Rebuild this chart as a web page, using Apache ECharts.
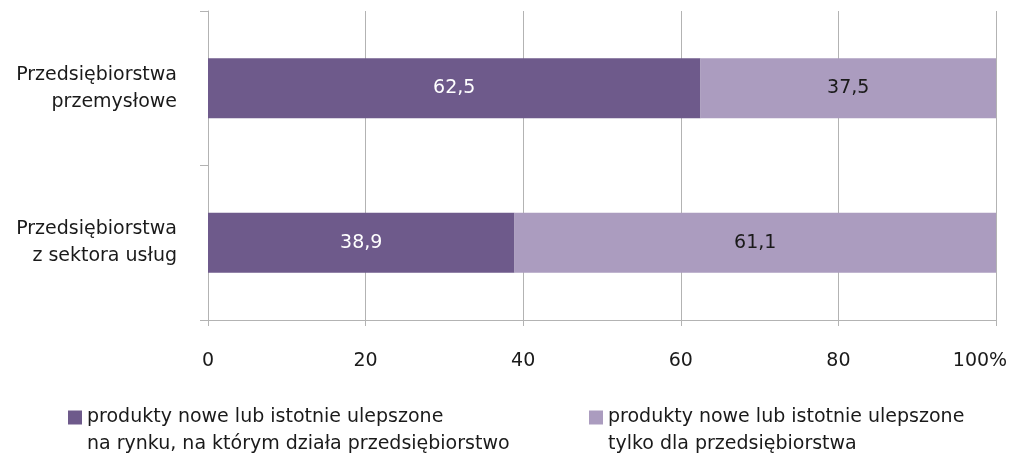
<!DOCTYPE html>
<html lang="pl">
<head>
<meta charset="UTF-8" />
<title>Produkty nowe lub istotnie ulepszone</title>
<script type="text/javascript" src="https://cdn.jsdelivr.net/npm/echarts@6/dist/echarts.min.js"></script>
<style>
    html, body { margin: 0; padding: 0; background: #fff; }
    #main { width: 1012px; height: 460px; }
</style>
</head>
<body>
<div id="main"></div>
<script type="text/javascript">
    // dane
    var categories = ['Przedsiębiorstwa\nprzemysłowe', 'Przedsiębiorstwa\nz sektora usług'];
    var seriesNames = ['produkty nowe lub istotnie ulepszone\nna rynku, na którym działa przedsiębiorstwo',
                       'produkty nowe lub istotnie ulepszone\ntylko dla przedsiębiorstwa'];
    var rynek = [62.5, 38.9];
    var tylkoDla = [37.5, 61.1];
    var xTicks = [0, 20, 40, 60, 80, 100];

    var font = 'DejaVu Sans';
    var fs = 19;
    var grey = '#b3b3b3';
    var dark = '#6e5a8b';
    var light = '#ab9cbf';

    var myChart = echarts.init(document.getElementById('main'));

    // osobna legenda dla kazdej serii; pusta pierwsza linia, zeby kwadrat stal przy pierwszej linii tekstu
    function legendCfg(name, left) {
        return {
            data: [name],
            left: left,
            top: 377,
            padding: 0,
            itemWidth: 14,
            itemHeight: 14,
            icon: 'rect',
            selectedMode: false,
            formatter: function (n) { return ' \n' + n; },
            textStyle: {
                fontFamily: font,
                fontSize: fs,
                color: '#1a1a1a',
                lineHeight: 27
            }
        };
    }

    var options = {
        animation: false,
        grid: { left: 208, right: 16, top: 11, bottom: 140, containLabel: false },
        legend: [legendCfg(seriesNames[0], 68), legendCfg(seriesNames[1], 589)],
        xAxis: {
            type: 'value',
            min: xTicks[0],
            max: xTicks[xTicks.length - 1],
            interval: 20,
            axisLine: { show: true, lineStyle: { color: grey } },
            axisTick: { show: true, length: 6, lineStyle: { color: grey } },
            splitLine: { show: true, lineStyle: { color: grey } },
            axisLabel: {
                margin: 32,
                fontFamily: font,
                fontSize: fs,
                color: '#1a1a1a',
                formatter: function (v) {
                    return v === 100 ? '{m|100%}' : String(v);
                },
                rich: {
                    m: { fontFamily: font, fontSize: fs, color: '#1a1a1a', padding: [0, 32, 0, 0] }
                }
            }
        },
        yAxis: {
            type: 'category',
            inverse: true,
            data: categories,
            axisLine: { show: true, lineStyle: { color: grey } },
            axisTick: { show: true, length: 8, lineStyle: { color: grey } },
            axisLabel: {
                margin: 31,
                fontFamily: font,
                fontSize: fs,
                lineHeight: 27,
                color: '#1a1a1a',
                align: 'right'
            }
        },
        series: [
            {
                name: seriesNames[0],
                type: 'bar',
                stack: 'suma',
                barWidth: 60,
                itemStyle: { color: dark },
                label: {
                    show: true,
                    position: 'inside',
                    fontFamily: font,
                    fontSize: fs,
                    color: '#ffffff',
                    formatter: function (p) { return String(p.value).replace('.', ','); }
                },
                data: rynek
            },
            {
                name: seriesNames[1],
                type: 'bar',
                stack: 'suma',
                barWidth: 60,
                itemStyle: { color: light },
                label: {
                    show: true,
                    position: 'inside',
                    fontFamily: font,
                    fontSize: fs,
                    color: '#1a1a1a',
                    formatter: function (p) { return String(p.value).replace('.', ','); }
                },
                data: tylkoDla
            }
        ]
    };
    myChart.setOption(options);
</script>
</body>
</html>
